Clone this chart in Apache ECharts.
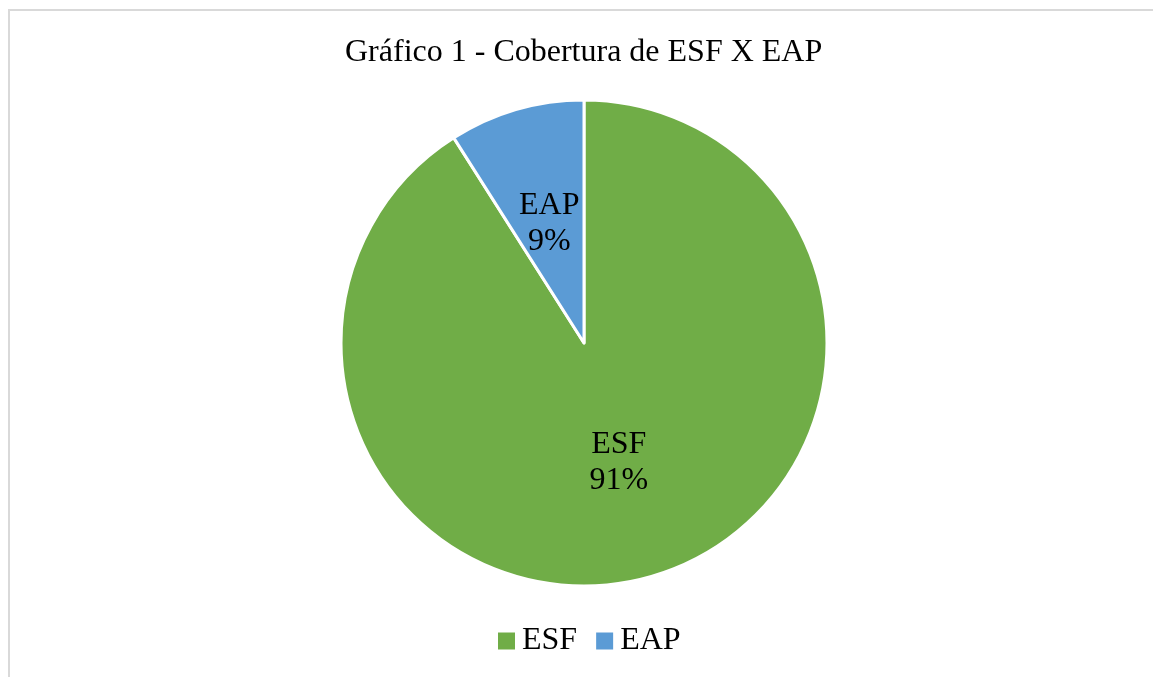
<!DOCTYPE html>
<html>
<head>
<meta charset="utf-8">
<script src="https://cdn.jsdelivr.net/npm/echarts@6/dist/echarts.min.js"></script>
<style>
  html, body { margin: 0; padding: 0; background: #ffffff; overflow: hidden; }
  #frame { position: absolute; left: 8px; top: 9px; width: 1200px; height: 700px;
           border-top: 2px solid #d9d9d9; border-left: 2px solid #d9d9d9; }
  #chart { position: absolute; left: 0; top: 0; width: 1153px; height: 677px; }
</style>
</head>
<body>
<div id="frame"></div>
<div id="chart"></div>
<script>
// Coverage shares (%)
const titleText = 'Gráfico 1 - Cobertura de ESF X EAP';
const categories = ['ESF', 'EAP'];
const shares = [91, 9];
const colors = ['#70AD47', '#5B9BD5'];

const font = '"Liberation Serif", "Times New Roman", serif';

const chart = echarts.init(document.getElementById('chart'), null, { renderer: 'canvas' });
chart.setOption({
  animation: false,
  color: colors,
  title: {
    text: titleText,
    left: 340,
    top: 32,
    textStyle: { fontFamily: font, fontSize: 32, fontWeight: 'normal', color: '#000' }
  },
  legend: {
    data: categories,
    bottom: 15,
    left: 493,
    icon: 'rect',
    itemWidth: 17,
    itemHeight: 17,
    itemGap: 19,
    itemStyle: { borderWidth: 0 },
    textStyle: { fontFamily: font, fontSize: 32, color: '#000', padding: [0, 0, 0, 2] }
  },
  series: [{
    type: 'pie',
    center: [584, 343],
    radius: 243,
    startAngle: 90,
    clockwise: true,
    data: categories.map((c, i) => ({ name: c, value: shares[i] })),
    itemStyle: { borderColor: '#fff', borderWidth: 3 },
    label: {
      show: true,
      position: 'inside',
      formatter: p => p.name + '\n' + p.value + '%',
      fontFamily: font,
      fontSize: 32,
      lineHeight: 36,
      padding: [4, 0, 0, 0],
      color: '#000'
    },
    labelLine: { show: false },
    emphasis: { disabled: true }
  }]
});
</script>
</body>
</html>
